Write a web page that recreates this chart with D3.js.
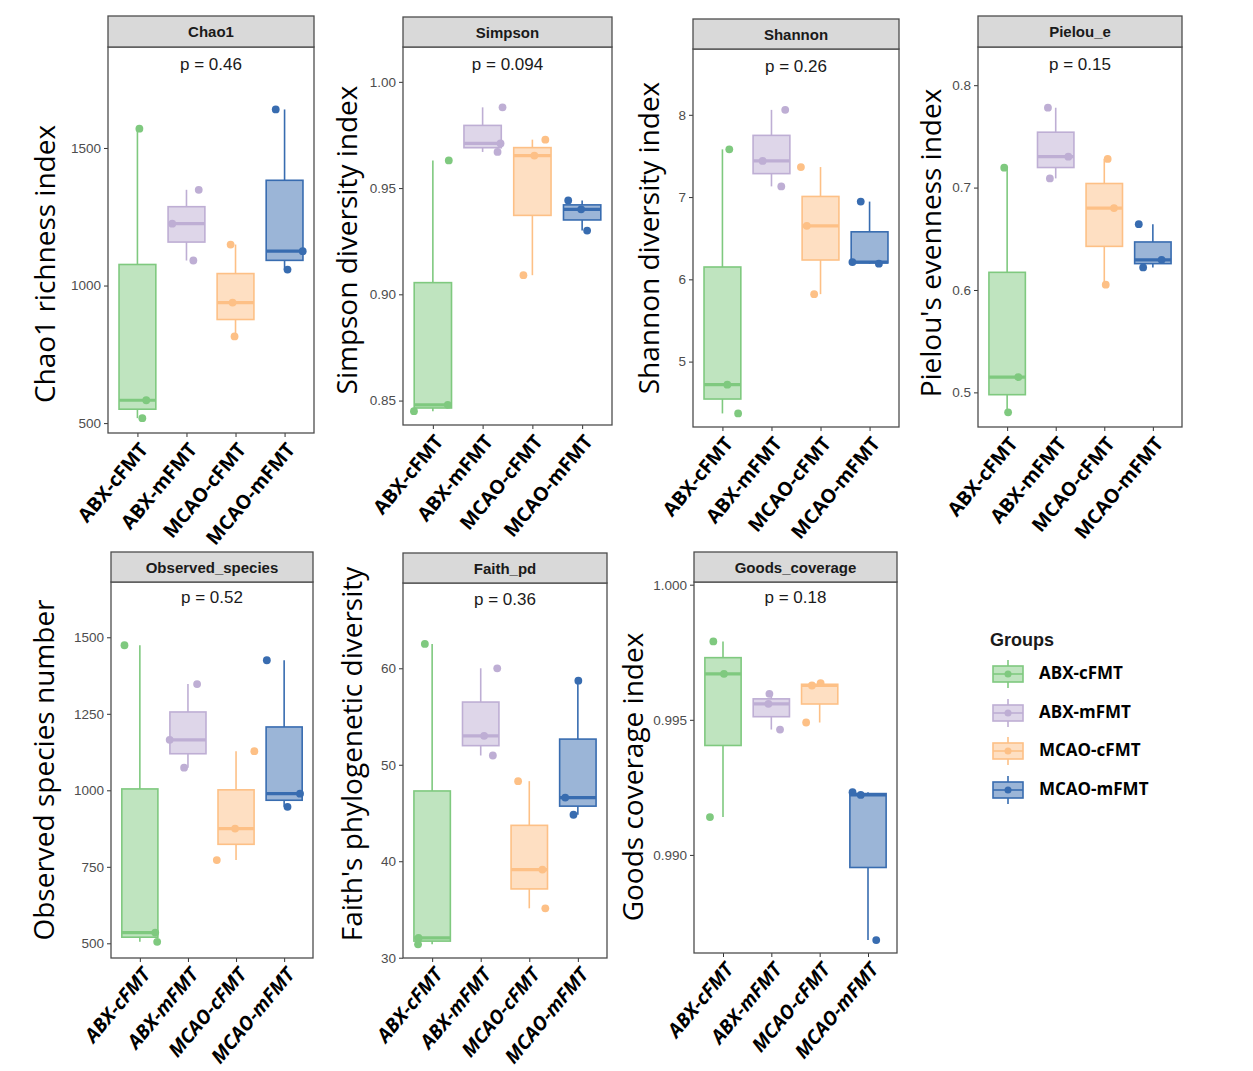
<!DOCTYPE html>
<html>
<head>
<meta charset="utf-8">
<script src="https://cdn.jsdelivr.net/npm/d3@7"></script>
<style>
  html, body { margin: 0; padding: 0; background: #ffffff; }
  svg { display: block; }
</style>
</head>
<body>
<div id="chart"></div>
<script>
// ---------------- DATA ----------------
const groups = ["ABX-cFMT", "ABX-mFMT", "MCAO-cFMT", "MCAO-mFMT"];
const groupColors = ["#7FC97F", "#BEAED4", "#FDC086", "#386CB0"];

const metrics = ["Chao1", "Simpson", "Shannon", "Pielou_e", "Observed_species", "Faith_pd", "Goods_coverage"];
const yTitles = ["Chao1 richness index", "Simpson diversity index", "Shannon diversity index",
                 "Pielou's evenness index", "Observed species number", "Faith's phylogenetic diversity",
                 "Goods coverage index"];
const pLabels = ["p = 0.46", "p = 0.094", "p = 0.26", "p = 0.15", "p = 0.52", "p = 0.36", "p = 0.18"];

// tick labels per metric
const chao1Ticks = [500, 1000, 1500];
const simpsonTicks = [0.85, 0.90, 0.95, 1.00];
const shannonTicks = [5, 6, 7, 8];
const pielouTicks = [0.5, 0.6, 0.7, 0.8];
const observedTicks = [500, 750, 1000, 1250, 1500];
const faithTicks = [30, 40, 50, 60];
const goodsTicks = [0.990, 0.995, 1.000];

// sample values per group (3 per group), in group order
const chao1Values = [[1570, 583, 518], [1348, 1225, 1091], [1149, 938, 815], [1640, 1125, 1058]];
const simpsonValues = [[0.845, 0.848, 0.963], [0.988, 0.971, 0.967], [0.9728, 0.9653, 0.909], [0.9442, 0.940, 0.930]];
const shannonValues = [[7.58, 4.72, 4.37], [8.06, 7.44, 7.13], [7.365, 6.65, 5.82], [6.945, 6.21, 6.19]];
const pielouValues = [[0.7195, 0.515, 0.4805], [0.778, 0.7302, 0.709], [0.728, 0.680, 0.6052], [0.6643, 0.6295, 0.622]];
const observedValues = [[1474, 535, 505], [1347, 1165, 1074], [1128, 875, 772], [1425, 989, 946]];
const faithValues = [[62.52, 32.05, 31.39], [60.0, 53.0, 50.96], [48.3, 39.14, 35.12], [58.72, 46.6, 44.82]];
const goodsValues = [[0.9979, 0.9967, 0.9914], [0.99596, 0.99559, 0.99464], [0.99636, 0.99627, 0.9949], [0.99232, 0.99222, 0.98685]];

// horizontal jitter of the points (fraction of one category step)
const chao1Jitter = [[0.04, 0.18, 0.1], [0.25, -0.29, 0.14], [-0.1, -0.06, -0.02], [-0.18, 0.37, 0.06]];
const simpsonJitter = [[-0.38, 0.3, 0.32], [0.4, 0.36, 0.3], [0.26, 0.04, -0.18], [-0.28, -0.02, 0.1]];
const shannonJitter = [[0.14, 0.1, 0.32], [0.28, -0.18, 0.2], [-0.4, -0.28, -0.13], [-0.18, -0.35, 0.19]];
const pielouJitter = [[-0.06, 0.23, 0.02], [-0.16, 0.26, -0.12], [0.07, 0.2, 0.03], [-0.29, 0.18, -0.2]];
const observedJitter = [[-0.32, 0.32, 0.36], [0.19, -0.38, -0.08], [0.38, -0.02, -0.4], [-0.36, 0.33, 0.07]];
const faithJitter = [[-0.15, -0.28, -0.29], [0.34, 0.07, 0.25], [-0.23, 0.27, 0.33], [0.01, -0.26, -0.09]];
const goodsJitter = [[-0.2, 0.02, -0.27], [-0.04, -0.06, 0.18], [0.02, -0.16, -0.28], [-0.32, -0.15, 0.17]];

// ---------------- LAYOUT ----------------
const W = 1253, H = 1071;
const panels = [
  { values: chao1Values, jitter: chao1Jitter, ticks: chao1Ticks, fmt: "d", domain: [464, 1867],
    x0: 108, x1: 314, st: 16, sb: 47, bottom: 433, tx: 55, ty: 264, py: 70, italic: false },
  { values: simpsonValues, jitter: simpsonJitter, ticks: simpsonTicks, fmt: ".2f", domain: [0.8385, 1.0164],
    x0: 403, x1: 612, st: 17, sb: 47, bottom: 425, tx: 357, ty: 240, py: 70, italic: false },
  { values: shannonValues, jitter: shannonJitter, ticks: shannonTicks, fmt: "d", domain: [4.205, 8.80],
    x0: 693, x1: 899, st: 19, sb: 49, bottom: 427, tx: 659, ty: 238, py: 72, italic: false },
  { values: pielouValues, jitter: pielouJitter, ticks: pielouTicks, fmt: ".1f", domain: [0.4662, 0.8373],
    x0: 978, x1: 1182, st: 16, sb: 47, bottom: 427, tx: 941, ty: 243, py: 70, italic: false },
  { values: observedValues, jitter: observedJitter, ticks: observedTicks, fmt: "d", domain: [452, 1680.7],
    x0: 111, x1: 313, st: 552, sb: 582, bottom: 958, tx: 54, ty: 770, py: 603, italic: true },
  { values: faithValues, jitter: faithJitter, ticks: faithTicks, fmt: "d", domain: [29.97, 68.84],
    x0: 403, x1: 607, st: 553, sb: 583, bottom: 958, tx: 362, ty: 754, py: 605, italic: true },
  { values: goodsValues, jitter: goodsJitter, ticks: goodsTicks, fmt: ".3f", domain: [0.98637, 1.0001],
    x0: 694, x1: 897, st: 552, sb: 582, bottom: 953, tx: 643, ty: 777, py: 603, italic: true }
];

const svg = d3.select("#chart").append("svg").attr("width", W).attr("height", H);
svg.append("rect").attr("width", W).attr("height", H).attr("fill", "#ffffff");

const axisFont = "'Liberation Sans', Arial, sans-serif";
const titleFont = "'Open Sans', 'Noto Sans', sans-serif";

panels.forEach((p, pi) => {
  const g = svg.append("g");
  const unit = (p.x1 - p.x0) / 4.2;
  const x = d3.scalePoint().domain(groups).range([p.x0 + 0.6 * unit, p.x0 + 3.6 * unit]);
  const y = d3.scaleLinear().domain(p.domain).range([p.bottom, p.sb]);

  // panel background
  g.append("rect").attr("x", p.x0).attr("y", p.sb).attr("width", p.x1 - p.x0).attr("height", p.bottom - p.sb)
    .attr("fill", "#ffffff");

  // y axis
  const ya = g.append("g").attr("transform", `translate(${p.x0},0)`)
    .call(d3.axisLeft(y).tickValues(p.ticks).tickSize(4).tickPadding(3).tickFormat(d3.format(p.fmt)));
  ya.select(".domain").remove();
  ya.selectAll(".tick line").attr("stroke", "#333333").attr("stroke-width", 1);
  ya.selectAll(".tick text").attr("fill", "#4d4d4d").style("font-family", axisFont).style("font-size", "13.5px");

  // x axis
  const xa = g.append("g").attr("transform", `translate(0,${p.bottom})`)
    .call(d3.axisBottom(x).tickSize(4).tickPadding(3));
  xa.select(".domain").remove();
  xa.selectAll(".tick line").attr("stroke", "#333333").attr("stroke-width", 1);
  xa.selectAll(".tick text")
    .attr("x", 0).attr("y", 0).attr("dy", 0)
    .attr("transform", "translate(11,17) rotate(-50)")
    .style("text-anchor", "end")
    .attr("fill", "#000000")
    .style("font-family", titleFont)
    .style("font-weight", "700")
    .style("font-style", p.italic ? "italic" : "normal")
    .style("font-size", "19.5px");

  // boxplots
  p.values.forEach((vals, gi) => {
    const col = groupColors[gi];
    const s = vals.slice().sort(d3.ascending);
    const q1 = d3.quantile(s, 0.25), med = d3.quantile(s, 0.5), q3 = d3.quantile(s, 0.75);
    const iqr = q3 - q1;
    const lo = d3.min(s.filter(v => v >= q1 - 1.5 * iqr));
    const hi = d3.max(s.filter(v => v <= q3 + 1.5 * iqr));
    const cx = x(groups[gi]);
    const bw = 0.75 * unit;
    const bg = g.append("g");
    bg.append("line").attr("x1", cx).attr("x2", cx).attr("y1", y(q3)).attr("y2", y(hi))
      .attr("stroke", col).attr("stroke-width", 1.6);
    bg.append("line").attr("x1", cx).attr("x2", cx).attr("y1", y(q1)).attr("y2", y(lo))
      .attr("stroke", col).attr("stroke-width", 1.6);
    bg.append("rect").attr("x", cx - bw / 2).attr("width", bw)
      .attr("y", y(q3)).attr("height", Math.max(0.5, y(q1) - y(q3)))
      .attr("fill", col).attr("fill-opacity", 0.5)
      .attr("stroke", col).attr("stroke-width", 1.6);
    bg.append("line").attr("x1", cx - bw / 2).attr("x2", cx + bw / 2).attr("y1", y(med)).attr("y2", y(med))
      .attr("stroke", col).attr("stroke-width", 3.2);
    // points
    vals.forEach((v, k) => {
      bg.append("circle").attr("cx", cx + p.jitter[gi][k] * unit).attr("cy", y(v)).attr("r", 3.9)
        .attr("fill", col);
    });
  });

  // panel border
  g.append("rect").attr("x", p.x0).attr("y", p.sb).attr("width", p.x1 - p.x0).attr("height", p.bottom - p.sb)
    .attr("fill", "none").attr("stroke", "#4d4d4d").attr("stroke-width", 1.3);

  // strip
  g.append("rect").attr("x", p.x0).attr("y", p.st).attr("width", p.x1 - p.x0).attr("height", p.sb - p.st)
    .attr("fill", "#d9d9d9").attr("stroke", "#4d4d4d").attr("stroke-width", 1.3);
  g.append("text").attr("x", (p.x0 + p.x1) / 2).attr("y", (p.st + p.sb) / 2 + 5.5)
    .attr("text-anchor", "middle").attr("fill", "#1a1a1a")
    .style("font-family", axisFont).style("font-weight", "700").style("font-size", "15px")
    .text(metrics[pi]);

  // p value
  g.append("text").attr("x", (p.x0 + p.x1) / 2).attr("y", p.py)
    .attr("text-anchor", "middle").attr("fill", "#1a1a1a")
    .style("font-family", axisFont).style("font-size", "17px")
    .text(pLabels[pi]);

  // y title
  g.append("text").attr("transform", `translate(${p.tx},${p.ty}) rotate(-90)`)
    .attr("text-anchor", "middle").attr("fill", "#000000")
    .style("font-family", titleFont).style("font-size", "28px")
    .text(yTitles[pi]);
});

// ---------------- LEGEND ----------------
const lg = svg.append("g");
lg.append("text").attr("x", 990).attr("y", 646).attr("fill", "#1a1a1a")
  .style("font-family", axisFont).style("font-weight", "700").style("font-size", "18px")
  .text("Groups");
const legendY = [673, 712, 750, 789];
groups.forEach((gname, i) => {
  const cy = legendY[i], col = groupColors[i];
  const kx = 1008;
  lg.append("line").attr("x1", kx).attr("x2", kx).attr("y1", cy - 13).attr("y2", cy + 15)
    .attr("stroke", col).attr("stroke-width", 1.6);
  lg.append("rect").attr("x", kx - 15).attr("y", cy - 7).attr("width", 30).attr("height", 16)
    .attr("fill", "#ffffff");
  lg.append("rect").attr("x", kx - 15).attr("y", cy - 7).attr("width", 30).attr("height", 16)
    .attr("fill", col).attr("fill-opacity", 0.5).attr("stroke", col).attr("stroke-width", 1.6);
  lg.append("line").attr("x1", kx - 15).attr("x2", kx + 15).attr("y1", cy + 1).attr("y2", cy + 1)
    .attr("stroke", col).attr("stroke-width", 1.6);
  lg.append("circle").attr("cx", kx).attr("cy", cy + 1).attr("r", 3.5).attr("fill", col);
  lg.append("text").attr("x", 1039).attr("y", cy + 6).attr("fill", "#000000")
    .style("font-family", titleFont).style("font-weight", "700").style("font-size", "17px")
    .text(gname);
});
</script>
</body>
</html>
